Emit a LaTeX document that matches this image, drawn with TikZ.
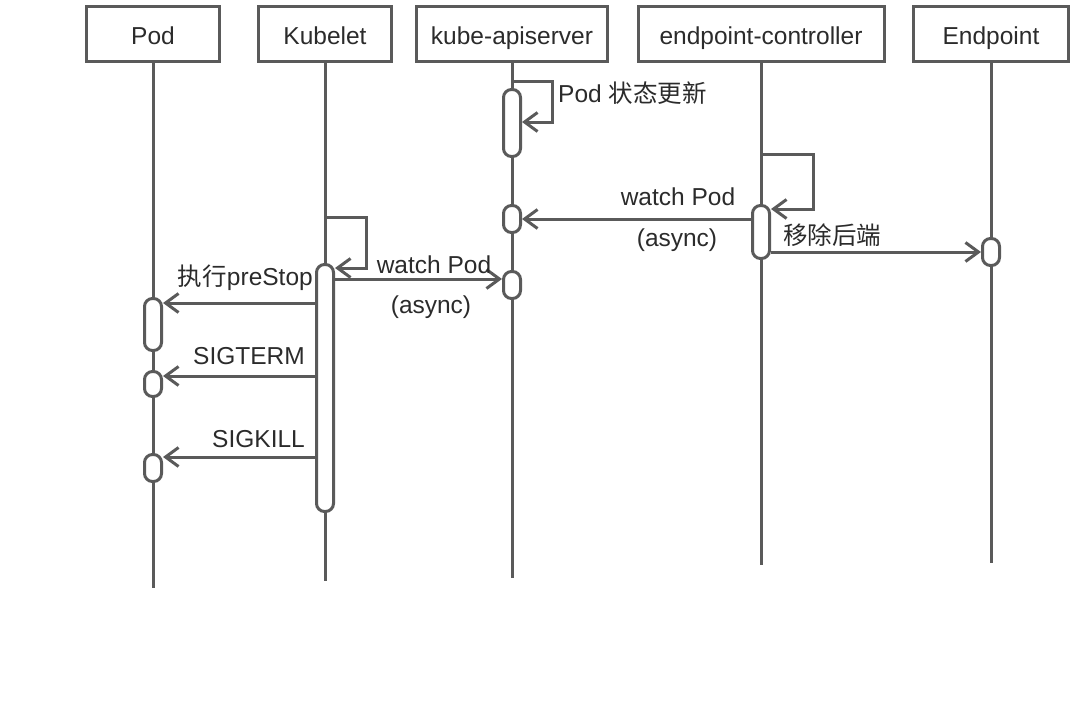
\documentclass[tikz,border=0pt]{standalone}
\usepackage{fontspec}
\setmainfont{Liberation Sans}
\newfontfamily\cjk{Noto Sans CJK SC}
\usetikzlibrary{arrows.meta,positioning,calc}
\definecolor{seqline}{RGB}{90,90,90}
\definecolor{seqtext}{RGB}{43,43,43}

\begin{document}
\begin{tikzpicture}[
  x=1pt, y=-1pt,
  font=\fontsize{24.5}{29}\selectfont,
  actor/.style={draw=seqline, line width=3pt, fill=white, text=seqtext,
    minimum height=55pt, inner sep=0pt, text height=23pt, text depth=3pt},
  life/.style={draw=seqline, line width=3pt},
  act/.style={draw=seqline, line width=3pt, fill=white,
    rounded corners=8pt, minimum width=17pt, inner sep=0pt},
  msg/.style={draw=seqline, line width=3pt,
    -{Straight Barb[length=13pt,width=19pt]}},
  lbl/.style={text=seqtext, inner sep=0pt},
]
\useasboundingbox (0,0) rectangle (1080,723);
% participants and lifelines
\foreach \n/\t/\x/\w/\e in {
    pod/Pod/153/133/588,
    kub/Kubelet/325/133/581,
    api/kube-apiserver/512/191/578,
    epc/endpoint-controller/761/246/565,
    ep/Endpoint/991/155/563} {
  \node[actor, minimum width=\w pt] (\n) at (\x,34) {\t};
  \coordinate (\n end) at (\x,\e);
  \draw[life] (\n.south) -- (\n end);
}
% activation bars
\foreach \n/\x/\t/\b in {api1/512/88/158, api2/512/204/234,
    api3/512/270/300, epc1/761/204/260, ep1/991/237/267,
    kub1/325/263/513, pod1/153/297/352, pod2/153/370/398,
    pod3/153/453/483} {
  \node[act, minimum height={\b-\t-3}] (\n) at (\x,{(\t+\b)/2}) {};
}
% self calls
\draw[msg] (api.south |- 0,81) -- (552,81) -- (552,122)
  -- (api1.east |- 0,122);
\draw[msg] (epc.south |- 0,154) -- (813,154) -- (813,209)
  -- (epc1.east |- 0,209);
\draw[msg] (kub.south |- 0,217) -- (366,217) -- (366,268)
  -- (kub1.east |- 0,268);
% messages
\draw[msg] (epc1.west |- 0,219) -- (api2.east);
\draw[msg] (epc1.east |- 0,252) -- (ep1.west);
\draw[msg] (kub1.east |- 0,279) -- (api3.west |- 0,279);
\foreach \m/\y in {pod1/303, pod2/376, pod3/457} {
  \draw[msg] (kub1.west |- 0,\y) -- (\m.east |- 0,\y);
}
% labels
\node[lbl, anchor=west] (upd) at (558,93) {Pod {\cjk 状态更新}};
\node[lbl] (w1) at (678,197) {watch Pod};
\node[lbl] (as1) at (677,240) {(async)};
\node[lbl, anchor=west] (rm) at (783,235) {\cjk 移除后端};
\node[lbl] (w2) at (434,265) {watch Pod};
\node[lbl] (as2) at (431,307) {(async)};
\node[lbl, anchor=east] (pre) at (313,278) {{\cjk 执行}preStop};
\node[lbl, anchor=east] (term) at (305,356) {SIGTERM};
\node[lbl, anchor=east] (kill) at (305,439) {SIGKILL};
\end{tikzpicture}
\end{document}
